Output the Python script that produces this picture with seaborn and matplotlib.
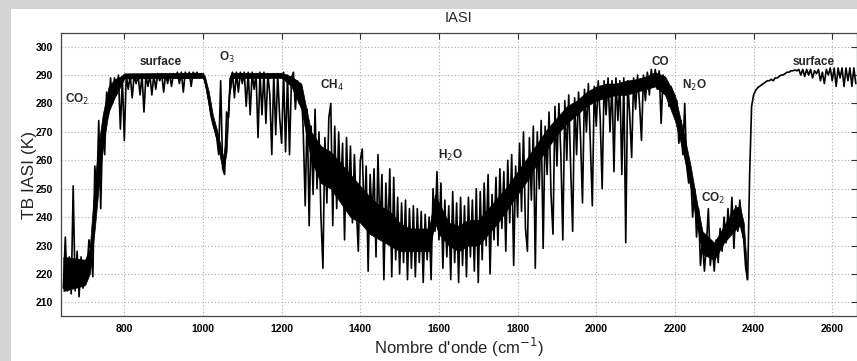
import numpy as np
import pandas as pd
import matplotlib
matplotlib.use("Agg")
import matplotlib.pyplot as plt
from matplotlib.patches import Rectangle
import seaborn as sns

# Brightness temperature (K), blocks of 5 cm-1 steps
block_starts = [645, 745, 845, 945, 1045, 1145, 1245, 1345, 1445, 1545,
                1645, 1745, 1845, 1945, 2045, 2145, 2245, 2345, 2445, 2545]
tb_645 = [215, 233, 214, 226, 213, 251, 214, 228, 212, 226, 215, 222, 221, 232, 228, 219, 258, 248, 274, 243]
tb_745 = [272, 262, 284, 276, 289, 280, 289, 283, 290, 271, 289, 267, 290, 285, 290, 282, 290, 287, 290, 283]
tb_845 = [290, 277, 290, 286, 290, 283, 290, 285, 290.5, 288, 290.5, 284, 290.5, 287, 290.5, 286, 290.5, 289, 291, 287]
tb_945 = [291, 284, 291, 289, 291, 286, 291, 290, 291, 289, 290.5, 290, 288, 285, 281, 276, 273, 271, 268, 262]
tb_1045 = [288, 257, 255, 277, 275, 289, 291, 282, 291, 284, 291, 287, 291, 279, 291, 276, 291, 285, 290.5, 268]
tb_1145 = [291, 276, 291, 273, 290.5, 283, 262, 290.5, 269, 290.5, 275, 266, 291, 263, 290, 262, 289, 291, 278, 288]
tb_1245 = [280, 286, 270, 244, 278, 237, 272, 248, 278, 250, 270, 240, 222, 268, 245, 275, 280, 237, 272, 243]
tb_1345 = [270, 248, 266, 232, 268, 245, 265, 238, 262, 243, 228, 260, 264, 238, 258, 221, 255, 240, 257, 226]
tb_1445 = [262, 235, 255, 218, 252, 232, 257, 219, 254, 225, 247, 220, 245, 224, 246, 218, 243, 222, 244, 219]
tb_1545 = [243, 224, 242, 217, 241, 225, 240, 218, 250, 235, 256, 232, 252, 222, 246, 226, 244, 218, 249, 224]
tb_1645 = [245, 217, 247, 223, 244, 219, 247, 226, 246, 221, 250, 217, 249, 225, 252, 230, 255, 220, 248, 232]
tb_1745 = [254, 230, 257, 236, 256, 228, 260, 238, 262, 223, 258, 240, 266, 242, 270, 236, 228, 268, 246, 272]
tb_1845 = [222, 270, 250, 274, 229, 272, 255, 277, 248, 234, 279, 258, 280, 262, 232, 281, 260, 283, 257, 235]
tb_1945 = [282, 262, 284, 268, 245, 285, 270, 287, 266, 244, 286, 272, 288, 275, 250, 288, 276, 289, 270, 288]
tb_2045 = [256, 289, 274, 288, 255, 289, 231, 288, 276, 261, 289, 278, 290, 280, 267, 290, 281, 291, 283, 292]
tb_2145 = [286, 292, 285, 291.5, 273, 290, 284, 287, 279, 286, 284, 276, 281, 266, 274, 262, 280, 258, 252, 256]
tb_2245 = [240, 250, 233, 243, 223, 232, 221, 230, 243, 223, 230, 221, 232, 224, 236, 228, 240, 231, 243, 234]
tb_2345 = [247, 229, 244, 235, 246, 238, 232, 222, 218, 255, 279, 283, 284.5, 285.5, 286, 286.5, 287, 287.5, 288, 288]
tb_2445 = [288.5, 288, 289, 289, 289.5, 290, 290, 290.5, 291, 291, 291.5, 291.5, 291.8, 291.5, 292, 290, 292, 289.5, 292, 290]
tb_2545 = [292, 289, 291.5, 290.5, 292, 288, 291, 287, 292, 290, 292.5, 288, 292.5, 286, 292.5, 289,
           292.5, 286, 292.5, 288, 292.5, 286, 292.5, 287]
step = 5

blocks = [tb_645, tb_745, tb_845, tb_945, tb_1045, tb_1145, tb_1245, tb_1345, tb_1445, tb_1545,
          tb_1645, tb_1745, tb_1845, tb_1945, tb_2045, tb_2145, tb_2245, tb_2345, tb_2445, tb_2545]

# Dense core of the spectrum (solid black mass)
core_wn = [645, 700, 712, 725, 735, 745, 760, 775, 790, 800,
           1000, 1005, 1015, 1025, 1035, 1045, 1052, 1060, 1067, 1075,
           1200, 1225, 1250, 1275, 1300, 1325, 1350, 1375, 1400, 1425,
           1450, 1475, 1500, 1525, 1550, 1575, 1590, 1600, 1625, 1650,
           1675, 1700, 1725, 1750, 1775, 1800, 1825, 1850, 1875, 1900,
           1925, 1950, 1975, 2000, 2025, 2050, 2075, 2100, 2125, 2150,
           2175, 2200, 2215, 2225, 2240, 2255, 2270, 2285, 2300, 2325,
           2350, 2365, 2375, 2382]
core_lo = [214, 216, 220, 236, 251, 264, 277, 282, 286, 288.8,
           289, 286.5, 279, 272, 267, 260, 256, 263, 283, 289,
           289, 286, 278, 260, 252, 250, 245, 240, 238, 234,
           232, 230, 228, 228, 228, 228, 238, 234, 230, 228,
           230, 230, 234, 238, 243, 248, 253, 259, 264, 269,
           273, 276, 279, 281, 282, 283, 283, 284, 285, 286,
           283, 274, 266, 260, 250, 238, 227, 226, 225, 231,
           235, 237, 231, 218]
core_hi = [226, 225, 229, 253, 266, 276, 286, 288.5, 289.5, 290.6,
           290.8, 289.5, 284, 276, 271, 265, 261, 271, 289, 290.8,
           290.8, 289.5, 287, 270, 265, 263, 259, 255, 251, 247,
           244, 242, 238, 236, 236, 236, 248, 245, 238, 237,
           239, 239, 243, 247, 251, 256, 261, 266, 271, 275,
           279, 281, 284, 286, 287, 287, 288, 288.5, 289.5, 291,
           289.5, 283, 274, 268, 258, 246, 235, 233, 231, 237,
           243, 244, 238, 224]

x_ticks = [800, 1000, 1200, 1400, 1600, 1800, 2000, 2200, 2400, 2600]
y_ticks = [210, 220, 230, 240, 250, 260, 270, 280, 290, 300]

labels = ["CO$_2$", "surface", "O$_3$", "CH$_4$", "H$_2$O", "CO", "N$_2$O", "CO$_2$", "surface"]
label_wn = [650, 840, 1041, 1298, 1598, 2141, 2218, 2266, 2499]
label_tb = [281.5, 294.6, 296.2, 286.5, 261.8, 294.6, 286.5, 246.6, 294.6]

wn_all, tb_all = [], []
for s, b in zip(block_starts, blocks):
    for i, v in enumerate(b):
        wn_all.append(s + step * i)
        tb_all.append(v)
df = pd.DataFrame({"wn": wn_all, "tb": tb_all})

sns.set_theme(style="white")
plt.rcParams["font.family"] = ["Liberation Sans", "DejaVu Sans"]

fig = plt.figure(figsize=(8.57, 3.61), dpi=100)
fig.patch.set_facecolor("#d4d4d4")
fig.patches.append(Rectangle((11 / 857, 0), 1 - 11 / 857, 1 - 9 / 361,
                             transform=fig.transFigure, facecolor="white",
                             edgecolor="none", zorder=-10))
ax = fig.add_axes([61 / 857, 45 / 361, 1 - 61 / 857, (316 - 33.3) / 361])
ax.set_facecolor("white")

ax.fill_between(core_wn, core_lo, core_hi, color="black", linewidth=0.5,
                edgecolor="black", zorder=2)
sns.lineplot(data=df, x="wn", y="tb", color="black", linewidth=1.2,
             estimator=None, sort=False, ax=ax, zorder=3)

ax.set_xlim(639, 2663)
ax.set_ylim(205.2, 304.7)
ax.set_xticks(x_ticks)
ax.set_yticks(y_ticks)
ax.set_xticklabels([str(t) for t in x_ticks], fontsize=7.5, fontweight="bold")
ax.set_yticklabels([str(t) for t in y_ticks], fontsize=7.5, fontweight="bold")
ax.tick_params(direction="in", length=4, width=0.8, top=True, right=True,
               colors="#333333", labelcolor="black", pad=6)
ax.grid(True, linestyle=(0, (1, 2)), color="#aaaaaa", linewidth=0.8)
for sp in ax.spines.values():
    sp.set_color("#444444")
    sp.set_linewidth(0.9)

ax.set_xlabel("Nombre d'onde (cm$^{-1}$)", fontsize=12, labelpad=1)
ax.set_ylabel("TB IASI (K)", fontsize=12.5, labelpad=-1)
ax.set_title("IASI", fontsize=10.5, pad=8)

for t, x, y in zip(labels, label_wn, label_tb):
    ax.text(x, y, t, fontsize=8.5, fontweight="bold", ha="left", va="center", zorder=4)

fig.savefig("out.png", dpi=100, facecolor=fig.get_facecolor())
